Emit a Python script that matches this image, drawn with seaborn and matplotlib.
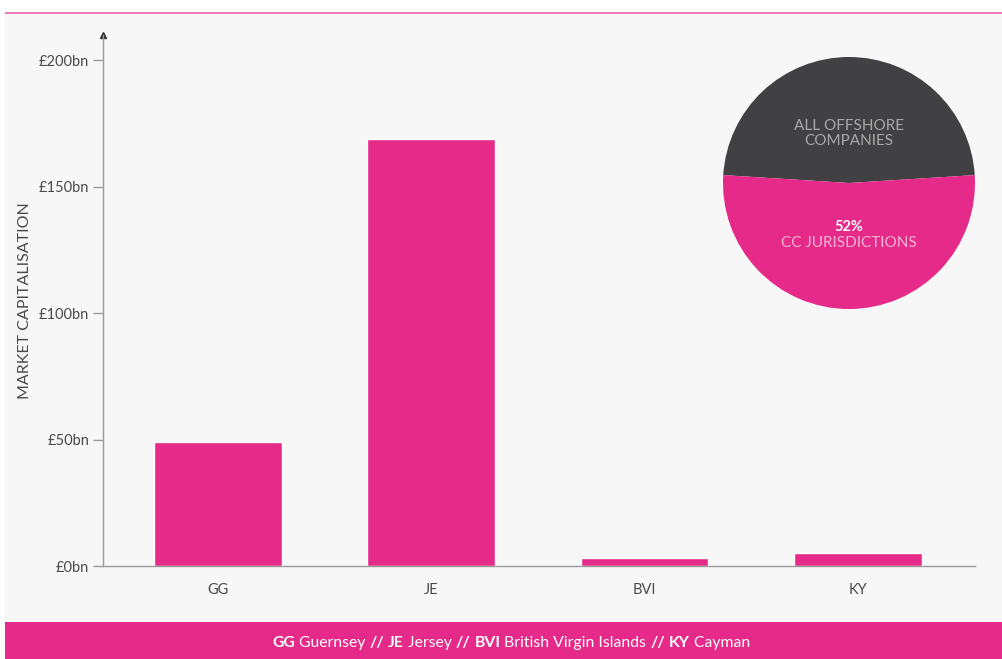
import matplotlib
matplotlib.use("Agg")
import matplotlib.pyplot as plt
import seaborn as sns
import pandas as pd
from matplotlib.patches import Rectangle

# data
codes = ["GG", "JE", "BVI", "KY"]
market_cap = [49, 169, 3, 5]  # £bn
y_ticks = [0, 50, 100, 150, 200]
y_tick_labels = ["£0bn", "£50bn", "£100bn", "£150bn", "£200bn"]
pie_labels = ["ALL OFFSHORE\nCOMPANIES", "CC JURISDICTIONS"]
pie_shares = [48, 52]
footer_parts = [("GG", True), (" Guernsey ", False), ("//", True), (" ", False),
                ("JE", True), (" Jersey ", False), ("//", True), (" ", False),
                ("BVI", True), (" British Virgin Islands ", False), ("//", True), (" ", False),
                ("KY", True), (" Cayman", False)]

pink = "#e62a89"
dark = "#414042"
bg = "#f7f7f7"
axis_grey = "#9a9a9a"
text_grey = "#4a4a4a"

sns.set_style("white")
plt.rcParams["font.family"] = ["Lato", "DejaVu Sans"]

fig = plt.figure(figsize=(10.02, 6.59), dpi=100)
fig.patch.set_facecolor("white")

# background panel, top pink rule and footer band
fig.patches.append(Rectangle((5 / 1002, 37 / 659), 997 / 1002, 609 / 659,
                             transform=fig.transFigure, facecolor=bg, edgecolor="none", zorder=-10))
fig.patches.append(Rectangle((5 / 1002, 645 / 659), 997 / 1002, 2 / 659,
                             transform=fig.transFigure, facecolor="#f07ab5", edgecolor="none", zorder=-9))
fig.patches.append(Rectangle((5 / 1002, 0), 997 / 1002, 37 / 659,
                             transform=fig.transFigure, facecolor=pink, edgecolor="none", zorder=-9))

ax = fig.add_axes([103 / 1002, 93 / 659, 872 / 1002, 531 / 659])
ax.set_facecolor("none")
df = pd.DataFrame({"code": codes, "cap": market_cap})
sns.barplot(data=df, x="code", y="cap", color=pink, saturation=1, width=0.6, ax=ax)
ax.set_xlim(-0.54, 3.55)
ax.set_ylim(0, 210)
ax.set_yticks(y_ticks)
ax.set_yticklabels(y_tick_labels)
ax.set_xlabel("")
ax.set_ylabel("MARKET CAPITALISATION", fontsize=11.5, color=text_grey, labelpad=5)
for s in ["top", "right"]:
    ax.spines[s].set_visible(False)
for s in ["left", "bottom"]:
    ax.spines[s].set_color(axis_grey)
    ax.spines[s].set_linewidth(1)
ax.tick_params(axis="y", length=7, width=1, color=axis_grey, labelsize=10.5, labelcolor=text_grey, pad=3, left=True)
ax.tick_params(axis="x", length=0, labelsize=10.5, labelcolor=text_grey, pad=12)
ax.plot(0, 1, marker="^", color="#333333", markersize=4, transform=ax.transAxes, clip_on=False)

# pie inset
pax = fig.add_axes([722 / 1002, (659 - 309) / 659, 254 / 1002, 252 / 659])
pax.pie(pie_shares, colors=[dark, pink], startangle=3.6, counterclock=True,
        wedgeprops={"linewidth": 0})
pax.set_xlim(-1.0, 1.0)
pax.set_ylim(-1.0, 1.0)
pax.set_aspect("equal")
pax.text(0, 0.395, pie_labels[0], ha="center", va="center", color="#a8a8a8", fontsize=11, linespacing=1.05)
pax.text(0, -0.35, "52%", ha="center", va="center", color="white", fontsize=10.5, fontweight="bold")
pax.text(0, -0.48, pie_labels[1], ha="center", va="center", color="#f6b4d5", fontsize=11)

# footer legend with bold codes
fig.canvas.draw()
renderer = fig.canvas.get_renderer()
texts = []
x = 0
for s, bold in footer_parts:
    t = fig.text(x, 16 / 659, s, color="white", fontsize=11.3,
                 fontweight="bold" if bold else "normal", va="center", ha="left")
    texts.append(t)
    bb = t.get_window_extent(renderer)
    x += bb.width / fig.bbox.width
total = x
start = 511 / 1002 - total / 2
x = start
for t in texts:
    bb = t.get_window_extent(renderer)
    t.set_x(x)
    x += bb.width / fig.bbox.width

fig.savefig("out.png", dpi=100, facecolor=fig.get_facecolor())
